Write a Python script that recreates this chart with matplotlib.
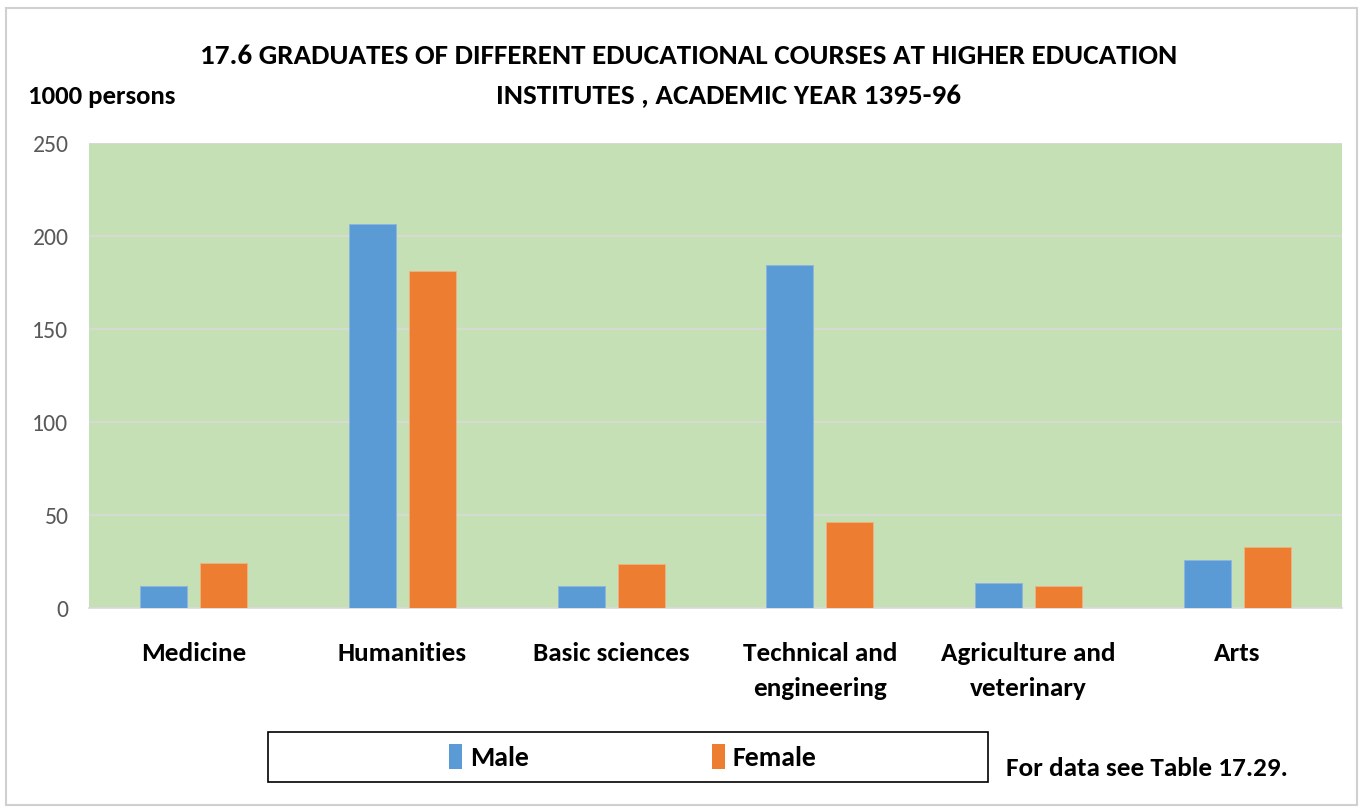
import numpy as np
import matplotlib
matplotlib.use('Agg')
import matplotlib.pyplot as plt
from matplotlib.patches import Rectangle, Patch

plt.rcParams['font.family'] = ['Carlito', 'Liberation Sans', 'DejaVu Sans']

# values (1000 persons)
categories = ['Medicine', 'Humanities', 'Basic sciences', 'Technical and\nengineering',
              'Agriculture and\nveterinary', 'Arts']
male = [12.1, 206.3, 12.1, 184.3, 13.7, 25.9]
female = [24.3, 181.1, 23.6, 46.2, 12.0, 33.2]
yticks = [0, 50, 100, 150, 200, 250]

blue = '#5B9BD5'
orange = '#ED7D31'
green = '#C5E0B4'

fig = plt.figure(figsize=(13.62, 8.09), dpi=100)
ax = fig.add_axes([89.3/1362, 1-608.3/809, (1341.6-89.3)/1362, (608.3-143)/809])
ax.set_facecolor(green)

x = np.arange(len(categories))
w = 0.225
ax.bar(x - 0.144, male, w, color=blue, edgecolor='#8DB4E2', linewidth=0.6, zorder=3)
ax.bar(x + 0.144, female, w, color=orange, edgecolor='#F4B183', linewidth=0.6, zorder=3)

ax.set_xlim(-0.5, len(categories) - 0.5)
ax.set_ylim(0, 250)
ax.set_yticks(yticks)
ax.set_yticklabels([str(t) for t in yticks], color='#595959', fontsize=17)
ax.set_xticks(x)
ax.set_xticklabels(categories, fontsize=19.5, fontweight='bold', color='black', linespacing=1.65)
ax.tick_params(axis='both', length=0)
ax.tick_params(axis='y', pad=15)
ax.tick_params(axis='x', pad=24)
ax.grid(axis='y', color='#D9D9D9', linewidth=1.2, zorder=1)
for s in ['top', 'right', 'left']:
    ax.spines[s].set_visible(False)
ax.spines['bottom'].set_color('#D9D9D9')
ax.spines['bottom'].set_linewidth(1.2)

# titles and notes
fig.text(689/1362, 1-56/809, '17.6 GRADUATES OF DIFFERENT EDUCATIONAL COURSES AT HIGHER EDUCATION',
         ha='center', va='center', fontsize=21, fontweight='bold')
fig.text(728/1362, 1-96/809, 'INSTITUTES , ACADEMIC YEAR 1395-96',
         ha='center', va='center', fontsize=21, fontweight='bold')
fig.text(28/1362, 1-96/809, '1000 persons', ha='left', va='center', fontsize=19.3, fontweight='bold')
fig.text(1006/1362, 1-768/809, 'For data see Table 17.29.', ha='left', va='center',
         fontsize=19.5, fontweight='bold')

# outer frame and legend box
fig.patches.append(Rectangle((6/1362, 4/809), 1351/1362, 797/809, transform=fig.transFigure,
                             fill=False, edgecolor='#D0D0D0', linewidth=1.5))
fig.patches.append(Rectangle((268/1362, 1-782/809), 720/1362, 50/809, transform=fig.transFigure,
                             fill=False, edgecolor='black', linewidth=1.2))
handles = [Patch(facecolor=blue, label='Male'), Patch(facecolor=orange, label='Female')]
fig.legend(handles=handles, loc='center', bbox_to_anchor=(633/1362, 1-757/809), ncol=2,
           frameon=False, handlelength=0.45, handleheight=1.0,
           handletextpad=0.3, columnspacing=6.6,
           prop={'weight': 'bold', 'size': 20})

fig.savefig('out.png', dpi=100)
